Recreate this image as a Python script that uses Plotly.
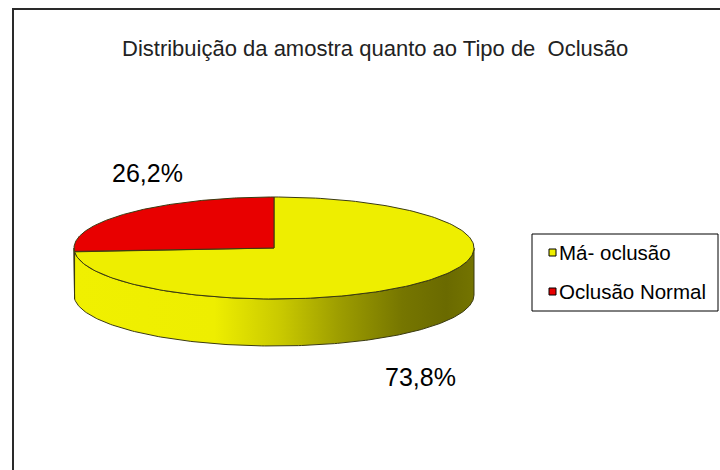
import numpy as np
import plotly.graph_objects as go

# ---- data ----
categories = ["Má- oclusão", "Oclusão Normal"]
values = [73.8, 26.2]
value_labels = ["73,8%", "26,2%"]
title_text = "Distribuição da amostra quanto ao Tipo de  Oclusão"

# ---- styles / geometry (pixel space) ----
W, H = 720, 470
CX, CY, RX, RY, DEPTH = 274, 248, 200, 51, 47
top_colors = ["#EEEE00", "#E80000"]
side_scales = [
    [[0.0, "#F0F000"], [0.35, "#EEEE00"], [0.52, "#C8C800"], [0.66, "#9E9E00"],
     [0.82, "#767600"], [0.93, "#6A6A00"], [1.0, "#747400"]],
    [[0.0, "#E00000"], [1.0, "#B00000"]],
]
edge = "#3A3A10"
FONT = "Liberation Sans, Arial, sans-serif"


def pt(t_deg, dy=0.0):
    t = np.radians(t_deg)
    return CX + RX * np.cos(t), CY - RY * np.sin(t) + dy


def arc(a, b, dy=0.0, n=200):
    ts = np.linspace(a, b, n)
    xs, ys = pt(ts, dy)
    return list(xs), list(ys)


total = float(sum(values))
bounds = []
cum = 0.0
for v in values:
    t0 = 90 - 360 * cum / total
    cum += v
    t1 = 90 - 360 * cum / total
    bounds.append((t0, t1))

fig = go.Figure()

# side walls (visible front half: angles in [-180, 0] mod 360)
for i, (t0, t1) in enumerate(bounds):
    lo, hi = min(t0, t1), max(t0, t1)
    for k in (-1, 0, 1):
        vlo, vhi = -180 + 360 * k, 0 + 360 * k
        a, b = max(lo, vlo), min(hi, vhi)
        if b - a > 1e-6:
            xt, yt = arc(a, b)
            xb, yb = arc(b, a, DEPTH)
            fig.add_trace(go.Scatter(
                x=xt + xb + [xt[0]], y=yt + yb + [yt[0]],
                mode="lines", fill="toself",
                fillgradient=dict(type="horizontal", colorscale=side_scales[i]),
                line=dict(color=edge, width=1),
                hoverinfo="skip", showlegend=False))

# top faces
for i, (t0, t1) in enumerate(bounds):
    xa, ya = arc(t0, t1)
    fig.add_trace(go.Scatter(
        x=[CX] + xa + [CX], y=[CY] + ya + [CY],
        mode="lines", fill="toself", fillcolor=top_colors[i],
        line=dict(color=edge, width=1),
        hoverinfo="skip", showlegend=False, name=categories[i]))

# value labels, placed outward from each slice's mid angle
annotations = []
for i, (t0, t1) in enumerate(bounds):
    m = (t0 + t1) / 2
    s = np.sin(np.radians(m))
    lx = CX + 0.93 * RX * np.cos(np.radians(m)) + 10
    ly = CY - RY * s + (DEPTH + 47 if s < 0 else -40)
    annotations.append(dict(x=lx, y=ly, xref="x", yref="y", text=value_labels[i],
                            showarrow=False, font=dict(family=FONT, size=25, color="#000000")))

annotations.append(dict(x=375, y=48, xref="x", yref="y", text=title_text, showarrow=False,
                        font=dict(family=FONT, size=22, color="#222222")))

shapes = [
    dict(type="rect", xref="x", yref="y", x0=13, y0=9, x1=790, y1=540,
         line=dict(color="#2A2A2A", width=2), fillcolor="rgba(0,0,0,0)"),
    dict(type="rect", xref="x", yref="y", x0=532, y0=234, x1=718, y1=311,
         line=dict(color="#000000", width=1), fillcolor="rgba(0,0,0,0)"),
]
leg_y = [252.5, 291.5]
for i, name in enumerate(categories):
    shapes.append(dict(type="rect", xref="x", yref="y", x0=549, x1=556,
                       y0=leg_y[i] - 3.5, y1=leg_y[i] + 3.5,
                       line=dict(color="#000000", width=1), fillcolor=top_colors[i]))
    annotations.append(dict(x=557, y=leg_y[i], xref="x", yref="y", text=name,
                            xanchor="left", showarrow=False,
                            font=dict(family=FONT, size=20.5, color="#000000")))

fig.update_layout(
    width=W, height=H, margin=dict(l=0, r=0, t=0, b=0),
    paper_bgcolor="white", plot_bgcolor="white", showlegend=False,
    shapes=shapes, annotations=annotations,
    xaxis=dict(range=[0, W], visible=False, fixedrange=True),
    yaxis=dict(range=[H, 0], visible=False, fixedrange=True),
)
fig.write_html("out.html", config={"displayModeBar": False},
               post_script="document.body.style.margin='0px';")
